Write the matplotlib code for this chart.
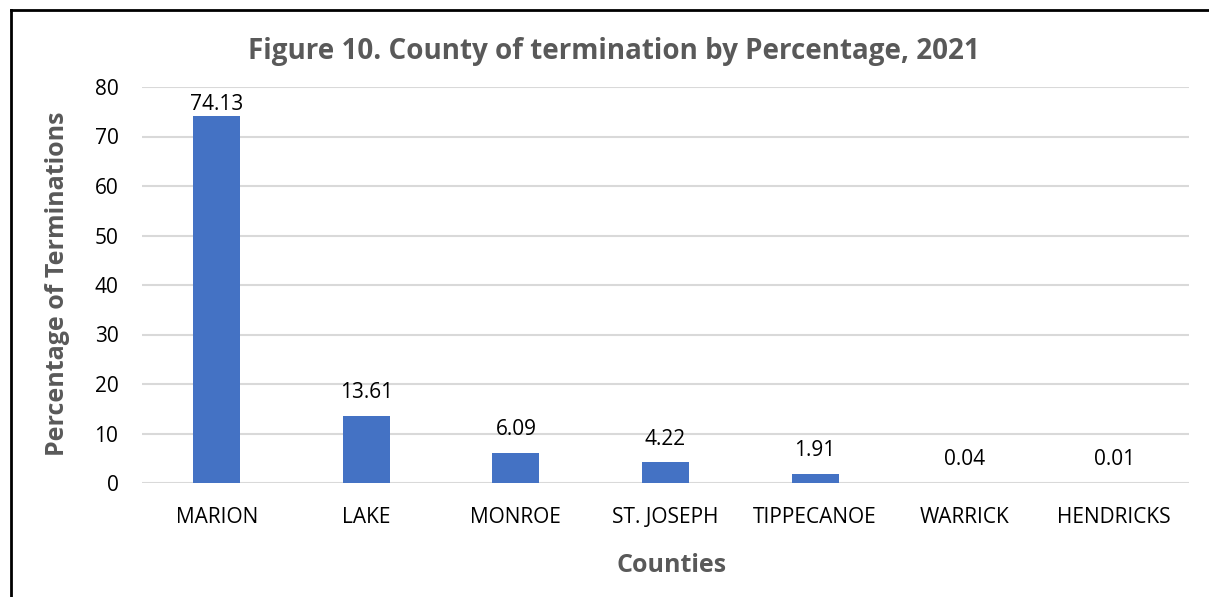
import matplotlib
matplotlib.use("Agg")
import matplotlib.pyplot as plt
from matplotlib.lines import Line2D

counties = ["MARION", "LAKE", "MONROE", "ST. JOSEPH", "TIPPECANOE", "WARRICK", "HENDRICKS"]
percentages = [74.13, 13.61, 6.09, 4.22, 1.91, 0.04, 0.01]
yticks = [0, 10, 20, 30, 40, 50, 60, 70, 80]

plt.rcParams['font.family'] = ['Open Sans', 'DejaVu Sans']

fig = plt.figure(figsize=(12.09, 5.97), dpi=100)
ax = fig.add_axes([142/1209, 1 - 483/597, (1189-142)/1209, (483-87)/597])

x = list(range(len(counties)))
ymax = 80
ax.bar(x, percentages, width=0.315, color="#4472C4", zorder=3)
for xi, v in zip(x, percentages):
    # labels sit above the bar; near the top of the plot area they are pulled down
    off = 9 if v < ymax - 10 else 1
    ax.annotate(f"{v:.2f}", (xi, v), xytext=(0, off), textcoords="offset points",
                ha="center", va="bottom", fontsize=15, color="black")

ax.set_xlim(-0.5, len(counties) - 0.5)
ax.set_ylim(0, ymax)
ax.set_yticks(yticks)
ax.set_xticks(x)
ax.set_xticklabels(counties)
ax.tick_params(axis="both", length=0, labelsize=15, colors="black")
ax.tick_params(axis="x", pad=17)
ax.tick_params(axis="y", pad=17)
ax.grid(axis="y", color="#D9D9D9", linewidth=1.5, zorder=0)
for s in ax.spines.values():
    s.set_visible(False)

fig.text(614/1209, 1 - 52/597, "Figure 10. County of termination by Percentage, 2021",
         ha="center", va="center", fontsize=20, fontweight="bold", color="#595959")
fig.text(58/1209, 1 - 284/597, "Percentage of Terminations", rotation=90,
         ha="center", va="center", fontsize=18, fontweight="bold", color="#595959")
fig.text(672/1209, 1 - 566/597, "Counties",
         ha="center", va="center", fontsize=18, fontweight="bold", color="#595959")

# chart border (top and left visible)
fig.add_artist(Line2D([11/1209, 1.0], [1 - 10/597, 1 - 10/597], color="black", linewidth=2, transform=fig.transFigure))
fig.add_artist(Line2D([11/1209, 11/1209], [1 - 10/597, 0], color="black", linewidth=2, transform=fig.transFigure))

fig.savefig("out.png", dpi=100)
